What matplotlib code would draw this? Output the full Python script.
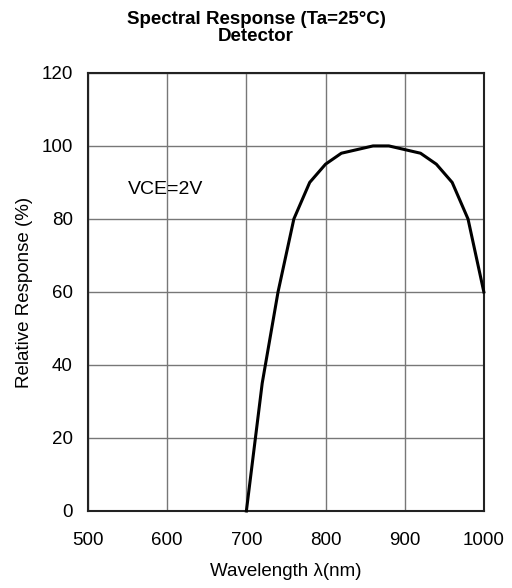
import matplotlib
matplotlib.use("Agg")
import matplotlib.pyplot as plt

plt.rcParams["font.family"] = ["Liberation Sans", "DejaVu Sans"]

wavelength = [700, 720, 740, 760, 780, 800, 820, 840, 860, 880, 900, 920, 940, 960, 980, 1000]
response = [0, 35, 60, 80, 90, 95, 98, 99, 100, 100, 99, 98, 95, 90, 80, 60]

x_ticks = [500, 600, 700, 800, 900, 1000]
y_ticks = [0, 20, 40, 60, 80, 100, 120]

fig = plt.figure(figsize=(5.12, 5.88), dpi=100)
ax = fig.add_axes([0.172, 0.131, 0.773, 0.745])

ax.plot(wavelength, response, color="black", linewidth=2.2, clip_on=False, zorder=3)

ax.set_xlim(500, 1000)
ax.set_ylim(0, 120)
ax.set_xticks(x_ticks)
ax.set_yticks(y_ticks)
ax.grid(True, color="#777777", linewidth=1.0)
ax.tick_params(length=0, labelsize=13.5)
ax.tick_params(axis="x", pad=15)
ax.tick_params(axis="y", pad=11)
for s in ax.spines.values():
    s.set_linewidth(1.5)
    s.set_color("#222222")

ax.text(550, 88, "VCE=2V", fontsize=14, va="center")
ax.set_xlabel("Wavelength \u03bb(nm)", fontsize=13.5, labelpad=10)
ax.set_ylabel("Relative Response (%)", fontsize=13.5, labelpad=6)
fig.suptitle("Spectral Response (Ta=25\u00b0C)\nDetector", fontsize=13.5, fontweight="bold",
             x=0.5, y=1 - 28 / 588, va="center", linespacing=1.07)

fig.savefig("out.png", dpi=100)
